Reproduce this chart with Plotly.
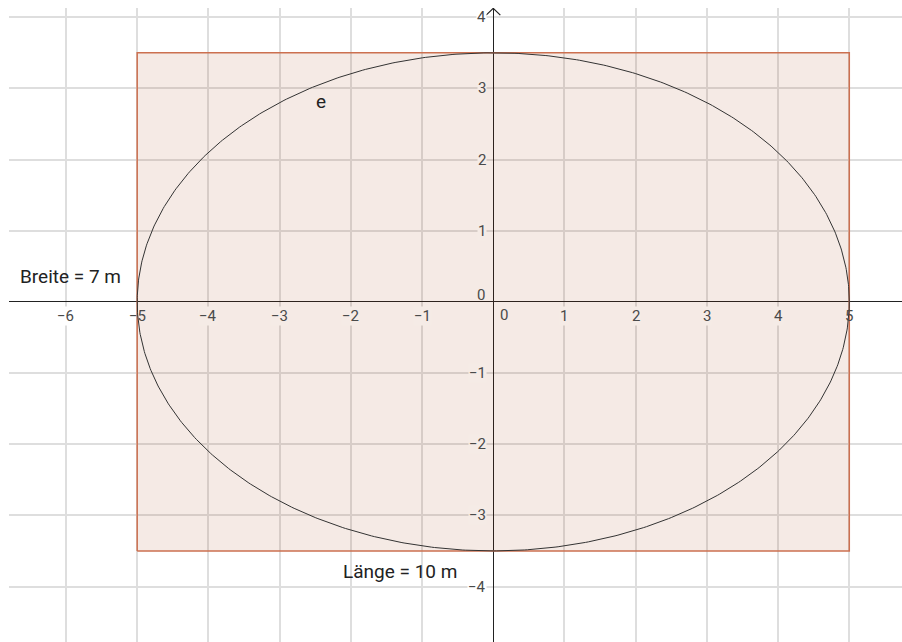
import numpy as np
import plotly.graph_objects as go

# ---- data ----
length_m = 10          # Länge
width_m = 7            # Breite
x_ticks = [-6, -5, -4, -3, -2, -1, 1, 2, 3, 4, 5]
y_ticks = [-4, -3, -2, -1, 1, 2, 3, 4]
labels = ["Breite = 7 m", "Länge = 10 m", "e"]
label_x = [-5.94, -1.31, -2.42]
label_y = [0.35, -3.79, 2.82]

x_range = [-6.80, 5.74]
y_range = [-4.78, 4.13]

a = length_m / 2
b = width_m / 2

fig = go.Figure()

# rectangle
rx = [-a, a, a, -a, -a]
ry = [-b, -b, b, b, -b]
fig.add_trace(go.Scatter(x=rx, y=ry, mode="lines", fill="toself",
                         fillcolor="rgba(153,51,0,0.10)",
                         line=dict(color="#cc7050", width=1.5),
                         hoverinfo="skip", showlegend=False))

# ellipse e
t = np.linspace(0, 2 * np.pi, 721)
fig.add_trace(go.Scatter(x=a * np.cos(t), y=b * np.sin(t), mode="lines",
                         line=dict(color="#333333", width=1),
                         hoverinfo="skip", showlegend=False))

# y-axis arrow head
top = y_range[1]
fig.add_trace(go.Scatter(x=[-0.1, 0, 0.1], y=[top - 0.1, top - 0.005, top - 0.1],
                         mode="lines", line=dict(color="#222222", width=1.2),
                         cliponaxis=False, hoverinfo="skip", showlegend=False))

def mstr(v):
    return ("\u2212" + str(-v)) if v < 0 else str(v)

tick_font = dict(family="Roboto, sans-serif", size=15, color="#4a4a4a")
inside_bg = "#f5ebe6"

for v in x_ticks:
    if abs(v) < 5:
        bg = inside_bg
    elif abs(v) > 5:
        bg = "white"
    else:
        bg = None
    fig.add_annotation(x=v, y=0, text=mstr(v), showarrow=False, yshift=-14,
                       font=tick_font, bgcolor=bg, borderpad=0)
for v in y_ticks:
    bg = inside_bg if abs(v) < 3.5 else "white"
    fig.add_annotation(x=0, y=v, text=mstr(v), showarrow=False, xanchor="right",
                       xshift=-6, font=tick_font, bgcolor=bg, borderpad=0)
# zeros
fig.add_annotation(x=0, y=0, text="0", showarrow=False, xanchor="left", xshift=5,
                   yshift=-13, font=tick_font)
fig.add_annotation(x=0, y=0, text="0", showarrow=False, xanchor="right", xshift=-6,
                   yshift=7, font=tick_font)

for txt, lx, ly in zip(labels, label_x, label_y):
    fig.add_annotation(x=lx, y=ly, text=txt, showarrow=False,
                       font=dict(family="Roboto, sans-serif", size=19, color="#222222"))

axis_common = dict(showgrid=True, gridcolor="#dedede", gridwidth=1.5, dtick=1,
                   showticklabels=False, ticks="", zeroline=True,
                   zerolinecolor="#222222", zerolinewidth=1, showline=False,
                   fixedrange=True)
fig.update_xaxes(range=x_range, tick0=0, **axis_common)
fig.update_yaxes(range=y_range, tick0=0, **axis_common)

fig.update_layout(width=902, height=642,
                  margin=dict(l=9, r=0, t=8, b=0),
                  paper_bgcolor="white", plot_bgcolor="white",
                  showlegend=False)

fig.write_html("out.html", config={"displayModeBar": False},
               post_script="document.body.style.margin='0';document.body.style.overflow='hidden';")
